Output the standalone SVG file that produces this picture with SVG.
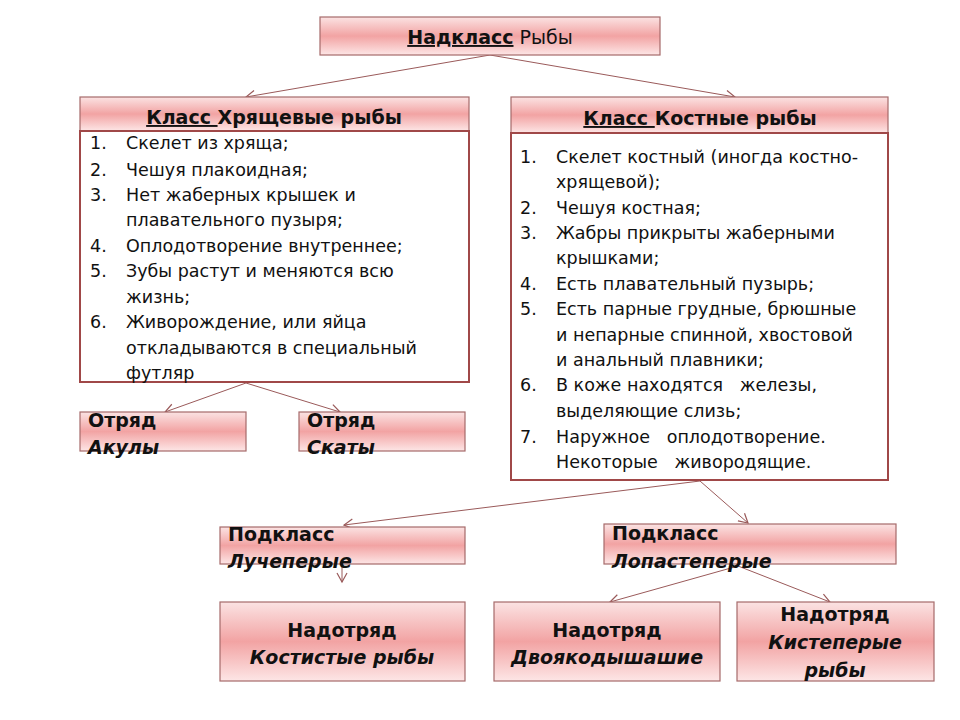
<svg xmlns="http://www.w3.org/2000/svg" width="960" height="720" viewBox="0 0 960 720">
<defs>
<linearGradient id="g" x1="0" y1="0" x2="0" y2="1">
<stop offset="0" stop-color="#fbe3e3"/><stop offset="0.5" stop-color="#f2a3a3"/><stop offset="1" stop-color="#fde6e6"/>
</linearGradient>
<marker id="a" markerWidth="12" markerHeight="12" refX="10" refY="6" orient="auto" markerUnits="userSpaceOnUse">
<path d="M1,1 L10,6 L1,11" fill="none" stroke="#9a5a5a" stroke-width="1.2"/>
</marker>
<style>
.b{fill:url(#g);stroke:#a66a6a;stroke-width:1.2}
.l{fill:#fff;stroke:#a04848;stroke-width:2}
text{font-family:"DejaVu Sans",sans-serif;fill:#111}
.t{font-size:19px;font-weight:bold}
.li{font-size:17.5px}
.c{stroke:#9a5a5a;stroke-width:1;fill:none;marker-end:url(#a)}
</style>
</defs>
<rect width="960" height="720" fill="#fff"/>
<g id="connectors">
<line class="c" x1="490" y1="55" x2="246" y2="97"/>
<line class="c" x1="490" y1="55" x2="735" y2="97"/>
<line class="c" x1="246" y1="383" x2="165" y2="412"/>
<line class="c" x1="246" y1="383" x2="340" y2="412"/>
<line class="c" x1="700" y1="481" x2="344" y2="525"/>
<line class="c" x1="700" y1="481" x2="748" y2="523"/>
<line class="c" x1="342" y1="545" x2="342" y2="582"/>
<line class="c" x1="738" y1="566" x2="610" y2="602"/>
<line class="c" x1="738" y1="566" x2="830" y2="602"/>
</g>
<g id="nadklass">
<rect class="b" x="320" y="17" width="340" height="38"/>
<text x="490" y="44" text-anchor="middle" font-size="19"><tspan font-weight="bold" text-decoration="underline">Надкласс</tspan> Рыбы</text>
</g>
<g id="hryasch">
<rect class="b" x="80" y="97" width="389" height="34"/>
<text x="274" y="124" text-anchor="middle" class="t"><tspan text-decoration="underline">Класс </tspan>Хрящевые рыбы</text>
<rect class="l" x="80" y="131" width="389" height="251"/>
<g class="li">
<text x="90" y="149">1.</text><text x="126" y="149">Скелет из хряща;</text>
<text x="90" y="176">2.</text><text x="126" y="176">Чешуя плакоидная;</text>
<text x="90" y="201">3.</text><text x="126" y="201">Нет жаберных крышек и</text>
<text x="126" y="226">плавательного пузыря;</text>
<text x="90" y="252">4.</text><text x="126" y="252">Оплодотворение внутреннее;</text>
<text x="90" y="277">5.</text><text x="126" y="277">Зубы растут и меняются всю</text>
<text x="126" y="303">жизнь;</text>
<text x="90" y="328">6.</text><text x="126" y="328">Живорождение, или яйца</text>
<text x="126" y="354">откладываются в специальный</text>
<text x="126" y="379">футляр</text>
</g>
</g>
<g id="kostnye">
<rect class="b" x="511" y="97" width="377" height="36"/>
<text x="700" y="125" text-anchor="middle" class="t"><tspan text-decoration="underline">Класс </tspan>Костные рыбы</text>
<rect class="l" x="511" y="133" width="377" height="347"/>
<g class="li">
<text x="520" y="163">1.</text><text x="556" y="163">Скелет костный (иногда костно-</text>
<text x="556" y="188">хрящевой);</text>
<text x="520" y="214">2.</text><text x="556" y="214">Чешуя костная;</text>
<text x="520" y="239">3.</text><text x="556" y="239">Жабры прикрыты жаберными</text>
<text x="556" y="264">крышками;</text>
<text x="520" y="290">4.</text><text x="556" y="290">Есть плавательный пузырь;</text>
<text x="520" y="315">5.</text><text x="556" y="315">Есть парные грудные, брюшные</text>
<text x="556" y="341">и непарные спинной, хвостовой</text>
<text x="556" y="366">и анальный плавники;</text>
<text x="520" y="391">6.</text><text x="556" y="391" xml:space="preserve">В коже находятся   железы,</text>
<text x="556" y="417">выделяющие слизь;</text>
<text x="520" y="443">7.</text><text x="556" y="443" xml:space="preserve">Наружное   оплодотворение.</text>
<text x="556" y="468" xml:space="preserve">Некоторые   живородящие.</text>
</g>
</g>
<g id="akuly">
<rect class="b" x="80" y="412" width="166" height="39"/>
<text x="88" y="427" class="t">Отряд</text>
<text x="88" y="454" class="t" font-style="italic">Акулы</text>
</g>
<g id="skaty">
<rect class="b" x="299" y="412" width="166" height="39"/>
<text x="307" y="427" class="t">Отряд</text>
<text x="307" y="454" class="t" font-style="italic">Скаты</text>
</g>
<g id="lucheperye">
<rect class="b" x="220" y="527" width="245" height="37"/>
<text x="228" y="541" class="t">Подкласс</text>
<text x="228" y="568" class="t" font-style="italic">Лучеперые</text>
</g>
<g id="lopasteperye">
<rect class="b" x="604" y="524" width="292" height="40"/>
<text x="612" y="540" class="t">Подкласс</text>
<text x="612" y="568" class="t" font-style="italic">Лопастеперые</text>
</g>
<g id="kostistye">
<rect class="b" x="220" y="602" width="245" height="79"/>
<text x="342" y="637" class="t" text-anchor="middle">Надотряд</text>
<text x="342" y="664" class="t" text-anchor="middle" font-style="italic">Костистые рыбы</text>
</g>
<g id="dvoyakodyshashie">
<rect class="b" x="494" y="602" width="226" height="79"/>
<text x="607" y="637" class="t" text-anchor="middle">Надотряд</text>
<text x="607" y="664" class="t" text-anchor="middle" font-style="italic">Двоякодышашие</text>
</g>
<g id="kistepery">
<rect class="b" x="737" y="602" width="197" height="79"/>
<text x="835" y="621" class="t" text-anchor="middle">Надотряд</text>
<text x="835" y="649" class="t" text-anchor="middle" font-style="italic">Кистеперые</text>
<text x="835" y="677" class="t" text-anchor="middle" font-style="italic">рыбы</text>
</g>
</svg>
